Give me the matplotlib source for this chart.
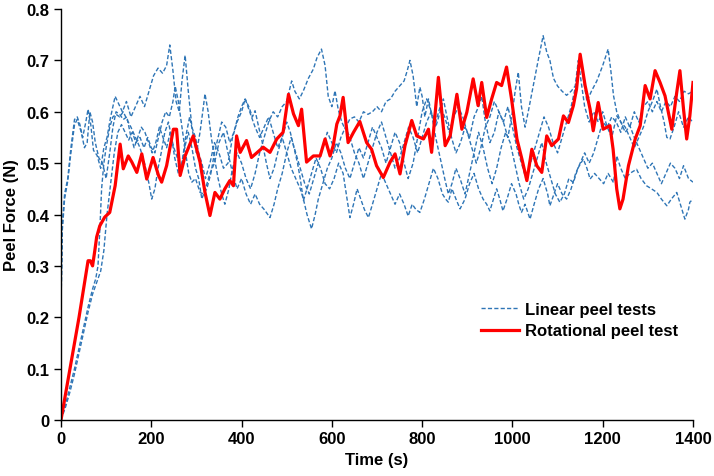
import matplotlib
matplotlib.use("Agg")
import matplotlib.pyplot as plt

plt.rcParams['font.family'] = ['Liberation Sans', 'DejaVu Sans']
plt.rcParams['font.weight'] = 'bold'

# rotational peel test
rot_t = [0, 20, 40, 60, 65, 70, 75, 79, 86, 97, 108, 120, 131, 138, 149, 157, 168, 179, 190,
         204, 216, 223, 234, 249, 256, 264, 275, 293, 308, 319, 330, 341, 352, 363, 374, 382,
         389, 397, 411, 422, 448, 463, 478, 492, 504, 515, 526, 533, 544, 559, 574, 585, 596,
         603, 611, 618, 625, 636, 648, 662, 677, 688, 699, 714, 729, 740, 751, 762, 777, 788,
         803, 814, 821, 836, 851, 862, 877, 888, 899, 913, 924, 932, 943, 954, 965, 976, 987,
         998, 1010, 1021, 1032, 1043, 1054, 1065, 1076, 1087, 1102, 1113, 1124, 1135, 1142,
         1150, 1161, 1172, 1179, 1190, 1201, 1216, 1223, 1231, 1238, 1245, 1257, 1272, 1283,
         1294, 1305, 1316, 1327, 1338, 1353, 1364, 1371, 1379, 1386, 1393, 1400]
rot_v = [0, 0.10, 0.20, 0.31, 0.31, 0.30, 0.33, 0.356, 0.378, 0.395, 0.404, 0.456, 0.537, 0.489,
         0.514, 0.502, 0.482, 0.518, 0.469, 0.511, 0.476, 0.463, 0.495, 0.566, 0.566, 0.476,
         0.514, 0.553, 0.502, 0.443, 0.398, 0.443, 0.430, 0.450, 0.466, 0.456, 0.553, 0.521,
         0.544, 0.511, 0.531, 0.521, 0.547, 0.560, 0.634, 0.596, 0.573, 0.605, 0.502, 0.514,
         0.514, 0.547, 0.514, 0.534, 0.576, 0.592, 0.628, 0.540, 0.560, 0.581, 0.540, 0.527,
         0.495, 0.472, 0.502, 0.518, 0.479, 0.534, 0.583, 0.553, 0.547, 0.566, 0.521, 0.667,
         0.534, 0.553, 0.634, 0.566, 0.599, 0.664, 0.612, 0.657, 0.589, 0.625, 0.657, 0.651,
         0.687, 0.625, 0.547, 0.508, 0.466, 0.527, 0.495, 0.482, 0.553, 0.534, 0.547, 0.592,
         0.579, 0.612, 0.644, 0.712, 0.651, 0.605, 0.563, 0.618, 0.566, 0.573, 0.527, 0.450,
         0.411, 0.430, 0.495, 0.547, 0.573, 0.651, 0.625, 0.680, 0.657, 0.631, 0.566, 0.638,
         0.680, 0.605, 0.547, 0.592, 0.657]

# linear peel tests, four runs
lin1_t = [0, 3, 8, 15, 22, 30, 36, 42, 48, 55, 60, 66, 72, 80, 88, 95, 102, 110, 120, 128, 136,
          145, 155, 165, 175, 185, 195, 205, 215, 225, 234, 241, 248, 255, 262, 268, 275, 282,
          290, 298, 305, 312, 320, 330, 340, 350, 360, 370, 380, 390, 400, 408, 418, 430, 440,
          450, 460, 470, 480, 490, 500, 510, 520, 530, 537, 545, 555, 563, 570, 580, 590, 600,
          610, 620, 630, 640, 650, 660, 670, 680, 690, 700, 710, 720, 730, 740, 750, 760, 769,
          780, 790, 800, 810, 820, 830, 840, 847, 855, 865, 875, 885, 895, 905, 915, 925, 932,
          940, 950, 960, 970, 980, 990, 1000, 1006, 1013, 1020, 1028, 1035, 1046, 1057, 1068,
          1076, 1083, 1091, 1100, 1110, 1120, 1130, 1139, 1146, 1152, 1160, 1170, 1180, 1190,
          1200, 1210, 1220, 1230, 1240, 1250, 1260, 1270, 1280, 1290, 1300, 1310, 1320, 1330,
          1340, 1350, 1360, 1370, 1380, 1390, 1400]
lin1_v = [0.22, 0.38, 0.44, 0.47, 0.53, 0.585, 0.59, 0.575, 0.55, 0.58, 0.605, 0.575, 0.525,
          0.515, 0.49, 0.53, 0.55, 0.59, 0.63, 0.615, 0.60, 0.62, 0.59, 0.61, 0.63, 0.61, 0.64,
          0.67, 0.685, 0.675, 0.69, 0.73, 0.68, 0.62, 0.60, 0.66, 0.71, 0.64, 0.57, 0.55, 0.52,
          0.50, 0.47, 0.50, 0.54, 0.52, 0.49, 0.50, 0.55, 0.58, 0.60, 0.625, 0.60, 0.57, 0.55,
          0.57, 0.59, 0.56, 0.53, 0.55, 0.52, 0.49, 0.47, 0.45, 0.43, 0.40, 0.372, 0.40, 0.43,
          0.46, 0.49, 0.51, 0.54, 0.52, 0.49, 0.47, 0.50, 0.53, 0.51, 0.54, 0.57, 0.55, 0.53,
          0.50, 0.53, 0.56, 0.54, 0.50, 0.47, 0.50, 0.55, 0.60, 0.625, 0.60, 0.57, 0.60, 0.625,
          0.59, 0.55, 0.52, 0.54, 0.57, 0.55, 0.59, 0.61, 0.63, 0.58, 0.54, 0.56, 0.60, 0.58,
          0.55, 0.60, 0.64, 0.677, 0.61, 0.57, 0.60, 0.65, 0.70, 0.748, 0.716, 0.70, 0.665, 0.65,
          0.64, 0.632, 0.64, 0.65, 0.70, 0.66, 0.61, 0.58, 0.60, 0.58, 0.60, 0.57, 0.59, 0.58,
          0.56, 0.59, 0.57, 0.60, 0.58, 0.61, 0.62, 0.60, 0.62, 0.60, 0.62, 0.61, 0.63, 0.62,
          0.64, 0.635, 0.64]

lin2_t = [0, 10, 20, 30, 40, 50, 60, 70, 77, 82, 86, 90, 95, 100, 108, 115, 122, 130, 138, 146,
          155, 165, 175, 185, 195, 201, 208, 215, 222, 230, 238, 245, 252, 260, 268, 276, 285,
          292, 300, 308, 314, 319, 326, 333, 340, 348, 356, 363, 372, 380, 390, 400, 410, 420,
          430, 440, 450, 460, 470, 480, 490, 500, 511, 518, 528, 537, 548, 559, 567, 577, 585,
          592, 600, 607, 614, 622, 629, 640, 650, 660, 670, 680, 690, 700, 710, 720, 730, 740,
          750, 760, 767, 773, 780, 788, 795, 800, 806, 814, 822, 830, 840, 850, 858, 866, 875,
          884, 895, 905, 915, 925, 935, 945, 955, 965, 975, 985, 995, 1005, 1015, 1025, 1035,
          1045, 1055, 1065, 1075, 1085, 1095, 1105, 1115, 1125, 1135, 1145, 1157, 1165, 1172,
          1182, 1192, 1202, 1212, 1224, 1231, 1240, 1250, 1260, 1275, 1285, 1297, 1308, 1320,
          1330, 1342, 1352, 1364, 1372, 1382, 1390, 1393, 1400]
lin2_v = [0, 0.03, 0.065, 0.10, 0.14, 0.18, 0.22, 0.255, 0.275, 0.30, 0.37, 0.45, 0.50, 0.53,
          0.57, 0.59, 0.595, 0.59, 0.60, 0.585, 0.57, 0.55, 0.53, 0.50, 0.46, 0.43, 0.45, 0.49,
          0.52, 0.56, 0.58, 0.55, 0.51, 0.48, 0.50, 0.55, 0.59, 0.56, 0.52, 0.56, 0.60, 0.635,
          0.60, 0.55, 0.51, 0.47, 0.44, 0.42, 0.45, 0.49, 0.52, 0.50, 0.47, 0.45, 0.48, 0.52,
          0.55, 0.58, 0.60, 0.59, 0.61, 0.62, 0.66, 0.64, 0.625, 0.641, 0.665, 0.683, 0.705,
          0.722, 0.69, 0.63, 0.61, 0.641, 0.605, 0.58, 0.567, 0.586, 0.59, 0.58, 0.60, 0.595,
          0.60, 0.61, 0.60, 0.62, 0.625, 0.64, 0.65, 0.66, 0.68, 0.70, 0.67, 0.61, 0.648, 0.63,
          0.59, 0.625, 0.59, 0.55, 0.51, 0.47, 0.44, 0.46, 0.49, 0.47, 0.44, 0.48, 0.52, 0.56,
          0.53, 0.49, 0.46, 0.49, 0.53, 0.56, 0.54, 0.50, 0.46, 0.43, 0.45, 0.48, 0.51, 0.54,
          0.50, 0.47, 0.44, 0.424, 0.44, 0.47, 0.462, 0.49, 0.508, 0.49, 0.469, 0.48, 0.47,
          0.46, 0.48, 0.462, 0.514, 0.49, 0.47, 0.48, 0.488, 0.47, 0.456, 0.45, 0.443, 0.43,
          0.417, 0.43, 0.443, 0.42, 0.391, 0.41, 0.424, 0.43]

lin3_t = [0, 10, 20, 30, 40, 50, 60, 70, 80, 88, 95, 102, 110, 118, 126, 134, 142, 150, 158,
          166, 175, 184, 192, 200, 208, 216, 224, 232, 240, 248, 253, 260, 268, 276, 283, 290,
          298, 308, 316, 323, 332, 340, 348, 356, 365, 374, 383, 392, 400, 408, 416, 424, 430,
          438, 446, 455, 463, 472, 480, 490, 500, 508, 516, 524, 530, 537, 545, 555, 565, 575,
          585, 595, 605, 615, 625, 632, 640, 648, 656, 664, 672, 681, 690, 700, 710, 720, 730,
          740, 750, 760, 769, 778, 786, 795, 805, 815, 825, 835, 845, 852, 858, 866, 875, 884,
          895, 905, 915, 925, 935, 943, 950, 958, 965, 972, 979, 988, 998, 1008, 1014, 1020,
          1028, 1039, 1048, 1058, 1068, 1078, 1083, 1092, 1100, 1110, 1120, 1130, 1140, 1150,
          1160, 1170, 1180, 1190, 1200, 1210, 1220, 1231, 1240, 1250, 1260, 1270, 1280, 1290,
          1300, 1310, 1320, 1330, 1340, 1350, 1360, 1370, 1379, 1390, 1400]
lin3_v = [0, 0.025, 0.055, 0.09, 0.13, 0.17, 0.21, 0.245, 0.27, 0.29, 0.33, 0.40, 0.46, 0.52,
          0.56, 0.575, 0.56, 0.545, 0.56, 0.54, 0.55, 0.53, 0.55, 0.53, 0.52, 0.55, 0.58, 0.60,
          0.59, 0.62, 0.65, 0.62, 0.57, 0.52, 0.48, 0.463, 0.47, 0.443, 0.44, 0.45, 0.48, 0.52,
          0.55, 0.58, 0.57, 0.54, 0.56, 0.59, 0.61, 0.625, 0.61, 0.59, 0.602, 0.57, 0.54, 0.50,
          0.47, 0.49, 0.52, 0.55, 0.58, 0.56, 0.53, 0.50, 0.47, 0.427, 0.45, 0.48, 0.51, 0.49,
          0.46, 0.45, 0.47, 0.50, 0.48, 0.44, 0.394, 0.42, 0.45, 0.43, 0.41, 0.394, 0.42, 0.45,
          0.48, 0.46, 0.44, 0.42, 0.44, 0.42, 0.397, 0.42, 0.41, 0.404, 0.43, 0.46, 0.49, 0.47,
          0.44, 0.43, 0.424, 0.45, 0.43, 0.411, 0.43, 0.46, 0.48, 0.45, 0.43, 0.42, 0.407, 0.43,
          0.45, 0.43, 0.407, 0.43, 0.46, 0.44, 0.42, 0.404, 0.42, 0.391, 0.42, 0.45, 0.47, 0.44,
          0.417, 0.44, 0.46, 0.44, 0.43, 0.45, 0.48, 0.50, 0.52, 0.50, 0.52, 0.55, 0.58, 0.57,
          0.55, 0.592, 0.58, 0.56, 0.573, 0.55, 0.53, 0.51, 0.49, 0.50, 0.48, 0.46, 0.48, 0.50,
          0.49, 0.47, 0.495, 0.47, 0.463]

lin4_t = [0, 3, 8, 15, 22, 30, 36, 45, 52, 58, 64, 70, 76, 84, 92, 100, 108, 115, 122, 130, 138,
          146, 154, 162, 170, 178, 186, 194, 202, 210, 218, 226, 234, 242, 250, 258, 266, 274,
          282, 290, 298, 305, 312, 320, 330, 340, 350, 360, 370, 380, 390, 400, 410, 420, 430,
          440, 450, 463, 472, 480, 490, 500, 510, 520, 530, 540, 550, 560, 570, 580, 590, 600,
          610, 620, 630, 640, 650, 660, 670, 680, 690, 700, 710, 720, 730, 740, 750, 760, 770,
          780, 790, 800, 810, 820, 830, 840, 850, 860, 870, 880, 890, 900, 910, 920, 930, 940,
          950, 960, 970, 980, 990, 1000, 1010, 1020, 1030, 1040, 1050, 1060, 1070, 1080, 1090,
          1100, 1110, 1120, 1130, 1140, 1150, 1158, 1165, 1175, 1187, 1200, 1212, 1218, 1224,
          1231, 1240, 1250, 1260, 1270, 1280, 1290, 1300, 1310, 1320, 1328, 1336, 1342, 1349,
          1358, 1368, 1379, 1390, 1400]
lin4_v = [0.22, 0.37, 0.43, 0.465, 0.52, 0.575, 0.585, 0.56, 0.53, 0.54, 0.60, 0.58, 0.54, 0.51,
          0.50, 0.47, 0.52, 0.57, 0.60, 0.595, 0.585, 0.59, 0.555, 0.53, 0.55, 0.57, 0.56, 0.54,
          0.52, 0.54, 0.57, 0.55, 0.53, 0.56, 0.53, 0.51, 0.49, 0.53, 0.56, 0.53, 0.49, 0.47,
          0.43, 0.45, 0.48, 0.50, 0.54, 0.56, 0.52, 0.48, 0.45, 0.47, 0.44, 0.42, 0.44, 0.42,
          0.41, 0.394, 0.42, 0.45, 0.48, 0.52, 0.55, 0.52, 0.49, 0.46, 0.44, 0.47, 0.50, 0.53,
          0.56, 0.54, 0.52, 0.55, 0.57, 0.55, 0.52, 0.50, 0.47, 0.50, 0.53, 0.56, 0.58, 0.55,
          0.52, 0.49, 0.51, 0.54, 0.57, 0.55, 0.52, 0.55, 0.58, 0.60, 0.58, 0.61, 0.59, 0.56,
          0.59, 0.61, 0.59, 0.56, 0.53, 0.50, 0.53, 0.57, 0.59, 0.62, 0.60, 0.58, 0.61, 0.57,
          0.53, 0.50, 0.47, 0.50, 0.53, 0.56, 0.59, 0.57, 0.54, 0.52, 0.55, 0.58, 0.61, 0.65,
          0.70, 0.66, 0.62, 0.64, 0.66, 0.69, 0.722, 0.68, 0.631, 0.60, 0.58, 0.57, 0.55, 0.53,
          0.55, 0.57, 0.60, 0.62, 0.644, 0.61, 0.58, 0.55, 0.547, 0.57, 0.60, 0.57, 0.59, 0.579]

x_ticks = [0, 200, 400, 600, 800, 1000, 1200, 1400]
y_ticks = [0, 0.1, 0.2, 0.3, 0.4, 0.5, 0.6, 0.7, 0.8]

blue = '#2E75B6'
red = '#FF0000'

fig = plt.figure(figsize=(7.14, 4.77), dpi=100)
ax = fig.add_axes([0.0854, 0.1174, 0.8852, 0.8616])

dash = (0, (3, 1.6))
first = True
for t, v in [(lin1_t, lin1_v), (lin2_t, lin2_v), (lin3_t, lin3_v), (lin4_t, lin4_v)]:
    ax.plot(t, v, color=blue, lw=1.0, linestyle=dash,
            label='Linear peel tests' if first else None)
    first = False
ax.plot(rot_t, rot_v, color=red, lw=2.3, label='Rotational peel test')

ax.set_xlim(0, 1400)
ax.set_ylim(0, 0.8)
ax.set_xticks(x_ticks)
ax.set_xticklabels([str(x) for x in x_ticks])
ax.set_yticks(y_ticks)
ax.set_yticklabels(['0'] + [f'{y:.1f}' for y in y_ticks[1:]])
ax.tick_params(axis='both', direction='out', length=5, width=1, labelsize=12, pad=3)
for lab in ax.get_xticklabels() + ax.get_yticklabels():
    lab.set_fontweight('bold')

ax.spines['top'].set_visible(False)
ax.spines['right'].set_visible(False)
ax.spines['left'].set_linewidth(1)
ax.spines['bottom'].set_linewidth(1)

ax.set_xlabel('Time (s)', fontsize=12, fontweight='bold', labelpad=4)
ax.set_ylabel('Peel Force (N)', fontsize=12, fontweight='bold', labelpad=6)

leg = ax.legend(loc='center left', bbox_to_anchor=(0.664, 0.243), frameon=False,
                fontsize=12, handlelength=2.3, handletextpad=0.35, labelspacing=0.4,
                borderpad=0, borderaxespad=0)
for txt in leg.get_texts():
    txt.set_fontweight('bold')

fig.savefig('out.png', dpi=100)
